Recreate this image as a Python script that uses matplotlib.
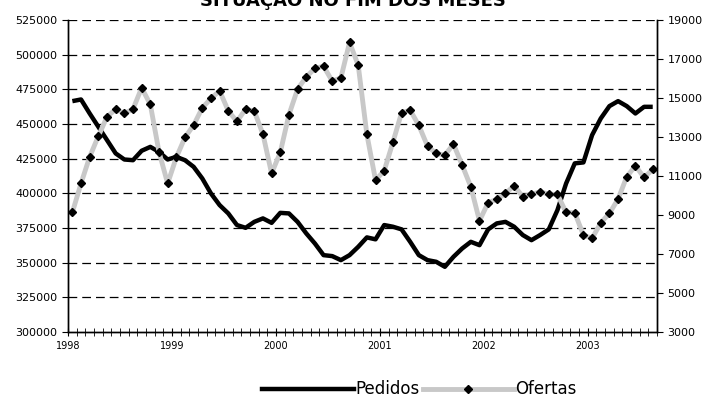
import matplotlib
matplotlib.use("Agg")
import matplotlib.pyplot as plt
from matplotlib.lines import Line2D

years = ["1998", "1999", "2000", "2001", "2002", "2003"]
pedidos = [466600, 467800, 457700, 448100, 438500, 428900, 424500, 424000, 430800, 433600, 430000, 424500,
           426400, 424000, 419200, 410800, 400000, 391600, 385600, 377200, 375200, 379500, 382000, 378800,
           386000, 385600, 379500, 371200, 363900, 355500, 354800, 351900, 355500, 361500, 368300, 366900,
           377200, 376000, 374100, 365100, 355500, 351900, 350700, 347100, 354300, 360300, 365100, 362700,
           374100, 378400, 379500, 376000, 370000, 366300, 370000, 374100, 388000, 407200, 421700, 422400,
           442100, 454100, 463000, 466600, 463000, 457700, 462500, 462500]
ofertas = [9139, 10625, 11990, 13052, 14041, 14436, 14216, 14436, 15530, 14677, 12248, 10625,
           11956, 12984, 13615, 14503, 14985, 15376, 14349, 13805, 14436, 14333, 13154, 11138,
           12214, 14144, 15462, 16093, 16523, 16641, 15872, 16041, 17856, 16692, 13137, 10795,
           11273, 12728, 14246, 14385, 13600, 12539, 12163, 12077, 12641, 11565, 10453, 8709,
           9635, 9807, 10111, 10505, 9942, 10059, 10197, 10078, 10059, 9139, 9122, 7974,
           7804, 8607, 9086, 9824, 10966, 11531, 10932, 11342]

n = len(pedidos)
x = list(range(n))
fig = plt.figure(figsize=(7.05, 4.12), dpi=100)
ax = fig.add_axes([0.0965, 0.194, 0.8355, 0.757])
ax2 = ax.twinx()

ax.set_ylim(300000, 525000)
ax.set_yticks(range(300000, 525001, 25000))
ax.set_xlim(-0.5, n - 0.5)
for v in range(325000, 525001, 25000):
    ax.axhline(v, color="black", lw=0.9, dashes=(7, 4), zorder=0)
ax.plot(x, pedidos, color="black", lw=3.2, zorder=3, solid_capstyle="butt")
ax.tick_params(axis="y", labelsize=8, length=4, direction="out")

ax2.set_ylim(3000, 19000)
ax2.set_yticks(range(3000, 19001, 2000))
ax2.tick_params(axis="y", labelsize=8, length=4)
ax2.plot(x, ofertas, color="#c8c8c8", lw=3.5, zorder=2)
ax2.plot(x, ofertas, ls="none", marker="D", ms=4.5, color="black", zorder=4)

ax.set_xticks([i - 0.5 for i in range(0, n + 1)], minor=True)
ax.set_xticks([i * 12 - 0.5 for i in range(len(years))])
ax.set_xticklabels(years, fontsize=7)
ax.tick_params(axis="x", which="both", direction="inout", length=6)
for a in (ax, ax2):
    a.spines["top"].set_visible(False)
    for s in a.spines.values():
        s.set_linewidth(1.0)

fig.text(0.5, 0.975, "SITUAÇÃO NO FIM DOS MESES", ha="center", va="bottom", fontsize=13, fontweight="bold")

handles = [Line2D([], [], color="black", lw=3.2),
           Line2D([], [], color="#c8c8c8", lw=3.5, marker="D", ms=4.5, mfc="black", mec="black")]
fig.legend(handles, ["Pedidos", "Ofertas"], loc="center", bbox_to_anchor=(0.595, 0.055), ncol=2,
           frameon=False, fontsize=12, handlelength=5.5, columnspacing=0.2, handletextpad=0.05)
fig.savefig("out.png", dpi=100)
